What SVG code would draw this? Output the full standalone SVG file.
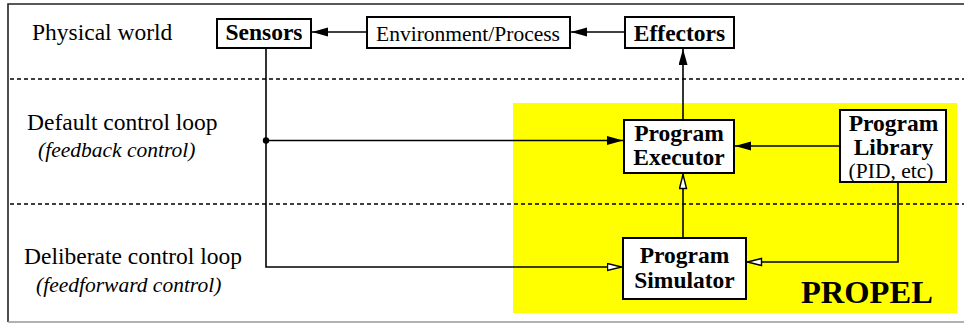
<svg xmlns="http://www.w3.org/2000/svg" width="964" height="324" viewBox="0 0 964 324">
<defs>
<style>
.box{fill:#fff;stroke:#000;stroke-width:2}
.ln{fill:none;stroke:#000;stroke-width:1.6}
.dash{fill:none;stroke:#000;stroke-width:1.4;stroke-dasharray:4 3}
.t{font-family:"Liberation Serif","Times New Roman",serif;fill:#000}
.b{font-weight:bold}
.i{font-style:italic}
</style>
<marker id="fa" markerUnits="userSpaceOnUse" markerWidth="18" markerHeight="10" refX="16" refY="4.5" orient="auto">
<path d="M0,0 L16,4.5 L0,9 Z" fill="#000"/>
</marker>
<marker id="oa" markerUnits="userSpaceOnUse" markerWidth="18" markerHeight="10" refX="15.5" refY="4.5" orient="auto">
<path d="M1,1 L15,4.5 L1,8 Z" fill="#fff" stroke="#000" stroke-width="1.4"/>
</marker>
</defs>
<rect x="0" y="0" width="964" height="324" fill="#fff"/>
<path d="M966,4 L8,4 L8,322" fill="none" stroke="#222" stroke-width="1.6"/>
<path d="M8,322 L966,322" fill="none" stroke="#999" stroke-width="1.6"/>
<rect id="propel-area" x="513" y="103" width="444" height="210" fill="#ffff00"/>
<g id="dividers">
<line class="dash" x1="10" y1="79" x2="964" y2="79"/>
<line class="dash" x1="10" y1="204" x2="964" y2="204"/>
</g>
<g id="labels">
<text class="t" x="32" y="40" font-size="23.5">Physical world</text>
<text class="t" x="27" y="130" font-size="23.5">Default control loop</text>
<text class="t i" x="38" y="157" font-size="21.5">(feedback control)</text>
<text class="t" x="24" y="264" font-size="23.5">Deliberate control loop</text>
<text class="t i" x="36" y="292" font-size="21.5">(feedforward control)</text>
<text class="t b" x="801" y="302.5" font-size="32.5">PROPEL</text>
</g>
<g id="connectors">
<line class="ln" x1="367" y1="32" x2="312" y2="32" marker-end="url(#fa)"/>
<line class="ln" x1="625" y1="32" x2="571" y2="32" marker-end="url(#fa)"/>
<line class="ln" x1="683" y1="120" x2="683" y2="49" marker-end="url(#fa)"/>
<polyline class="ln" points="266,48 266,267 622,267" marker-end="url(#oa)"/>
<line class="ln" x1="266" y1="140.5" x2="623" y2="140.5" marker-end="url(#fa)"/>
<circle cx="266" cy="140.5" r="3.2" fill="#000"/>
<line class="ln" x1="840" y1="146" x2="735" y2="146" marker-end="url(#fa)"/>
<line class="ln" x1="683" y1="238" x2="683" y2="174" marker-end="url(#oa)"/>
<polyline class="ln" points="898,182 898,262 747,262" marker-end="url(#oa)"/>
</g>
<g id="sensors">
<rect class="box" x="217" y="19" width="94" height="29"/>
<text class="t b" x="264" y="40" font-size="23.5" text-anchor="middle">Sensors</text>
</g>
<g id="environment">
<rect class="box" x="367" y="17" width="203" height="31"/>
<text class="t" x="468" y="41" font-size="21.5" text-anchor="middle">Environment/Process</text>
</g>
<g id="effectors">
<rect class="box" x="625" y="17" width="109" height="31"/>
<text class="t b" x="679.5" y="41" font-size="23.5" text-anchor="middle">Effectors</text>
</g>
<g id="executor">
<rect class="box" x="624" y="120" width="110" height="53"/>
<text class="t b" x="679" y="141" font-size="23.5" text-anchor="middle">Program</text>
<text class="t b" x="679" y="165" font-size="23.5" text-anchor="middle">Executor</text>
</g>
<g id="library">
<rect class="box" x="840" y="110" width="106" height="72"/>
<text class="t b" x="893.5" y="131" font-size="23.5" text-anchor="middle">Program</text>
<text class="t b" x="893.5" y="155" font-size="23.5" text-anchor="middle">Library</text>
<text class="t" x="891" y="177.5" font-size="21.5" text-anchor="middle">(PID, etc)</text>
</g>
<g id="simulator">
<rect class="box" x="623" y="238" width="123" height="61"/>
<text class="t b" x="684.5" y="263" font-size="23.5" text-anchor="middle">Program</text>
<text class="t b" x="684.5" y="288" font-size="23.5" text-anchor="middle">Simulator</text>
</g>
</svg>
